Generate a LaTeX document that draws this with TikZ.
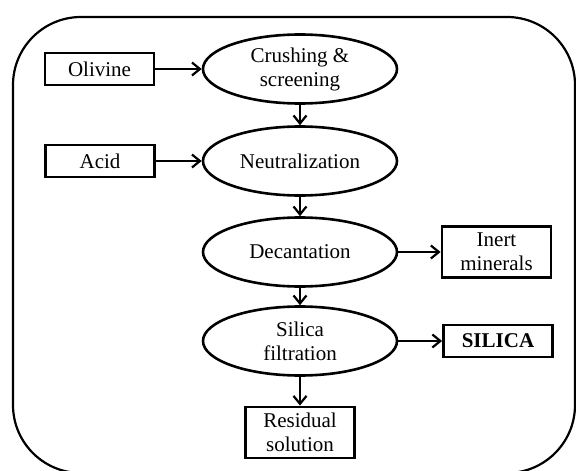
\documentclass[tikz,border=0pt]{standalone}
\usepackage{fontspec}
\setmainfont{Liberation Serif}
\usetikzlibrary{shapes.geometric}
\usetikzlibrary{arrows.meta}
\tikzset{box/.style={rectangle, draw, line width=2.8pt, inner sep=0pt, minimum width=109pt, minimum height=32pt, align=center}}
\tikzset{proc/.style={ellipse, draw, line width=2.6pt, inner sep=0pt, minimum width=194pt, minimum height=69pt, align=center}}
\tikzset{flow/.style={line width=2.2pt, -{Straight Barb[length=8pt,width=13pt]}}}
\tikzset{shell/.style={draw, line width=2.2pt, rounded corners=68pt}}

\begin{document}
\begin{tikzpicture}[x=1pt, y=-1pt, font=\fontsize{21}{24}\selectfont]

    \useasboundingbox (0,0) rectangle (576,471);
    \draw[shell] (13,17) rectangle (575,473);

    \node[box]  (olivine) at (99.5,69)  {Olivine};
    \node[proc] (crush)   at (300,69)   {Crushing \&\\screening};
    \node[box]  (acid)    at (100,161)  {Acid};
    \node[proc] (neutral) at (300,161)  {Neutralization};
    \node[proc] (decant)  at (300,252)  {Decantation};
    \node[box, minimum height=51pt] (inert) at (496.5,252) {Inert\\minerals};
    \node[proc] (filter)  at (300,341)  {Silica\\filtration};
    \node[box, font=\fontsize{21}{24}\selectfont\bfseries] (silica) at (498,341) {SILICA};
    \node[box, minimum height=51pt] (resid) at (300,432.5) {Residual\\solution};

    \draw[flow] (olivine) -- (crush);
    \draw[flow] (acid) -- (neutral);
    \draw[flow] (crush) -- (neutral);
    \draw[flow] (neutral) -- (decant);
    \draw[flow] (decant) -- (inert);
    \draw[flow] (decant) -- (filter);
    \draw[flow] (filter) -- (silica);
    \draw[flow] (filter) -- (resid);

  \end{tikzpicture}
\end{document}
